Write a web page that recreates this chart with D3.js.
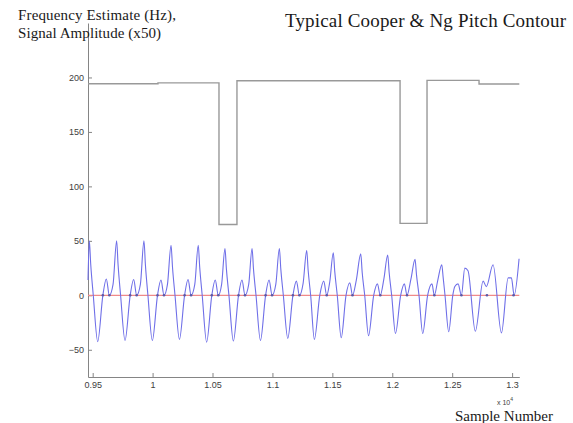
<!DOCTYPE html>
<html>
<head>
<meta charset="utf-8">
<script src="https://d3js.org/d3.v7.min.js"></script>
<style>
  body { margin: 0; background: #fff; }
  .tick text { font-family: "Liberation Sans", Arial, sans-serif; font-size: 9px; fill: #404040; }
  .serif { font-family: "Liberation Serif", "Times New Roman", serif; fill: #1a1a1a; }
</style>
</head>
<body>
<div id="chart"></div>
<script>
// pitch estimate (Hz), held until the next change
var pitchSamples = [9461, 10045, 10554, 10704, 12065, 12290, 12724, 13060];
var pitchHz = [194.2, 195, 65, 197, 66, 197.3, 194, 194];

// speech signal (x50)
var signalSamples = [9461,
  9472, 9484, 9505, 9542, 9585, 9614, 9639, 9670,
  9700, 9712, 9733, 9770, 9813, 9842, 9867, 9898,
  9928, 9940, 9961, 9998, 10041, 10070, 10095, 10124,
  10154, 10166, 10187, 10224, 10267, 10296, 10321, 10352,
  10381, 10393, 10414, 10451, 10494, 10523, 10548, 10576,
  10604, 10616, 10637, 10674, 10717, 10746, 10771, 10802,
  10830, 10842, 10863, 10900, 10943, 10972, 10997, 11028,
  11058, 11070, 11091, 11128, 11171, 11200, 11225, 11256,
  11286, 11298, 11319, 11350, 11395, 11428, 11453, 11478,
  11508, 11520, 11541, 11574, 11614, 11646, 11668, 11700,
  11737, 11749, 11770, 11802, 11845, 11876, 11900, 11930,
  11962, 11974, 11995, 12027, 12070, 12101, 12123, 12156,
  12190, 12202, 12223, 12254, 12295, 12331, 12351, 12380,
  12413, 12425, 12440, 12471, 12505, 12522, 12549, 12577,
  12605, 12632, 12693, 12758, 12785,
  12841, 12911, 12967, 12994, 13017, 13058];
var signalAmp = [14,
  50, 28, 0, -42.5, 0, 15, 0, 10,
  50, 28, 0, -41.5, 0, 14.5, 0, 10,
  50, 28, 0, -41.5, 0, 14, 0, 10,
  46, 26, 0, -40.5, 0, 14.5, 0, 10,
  46, 26, 0, -43, 0, 14, 0, 10,
  43, 24, 0, -42, 0, 14, 0, 10,
  43, 24, 0, -41.5, 0, 14, 0, 10,
  43, 24, 0, -39.5, 0, 13, 0, 11,
  41, 23, 0, -40.5, 0, 13, 0, 12,
  39, 22, 0, -39, 0, 11.5, 0, 14,
  38, 21, 0, -37, 0, 10.5, 0, 15,
  37, 21, 0, -35, 0, 10.5, 0, 15,
  33, 19, 0, -35, 0, 10.5, 0, 14,
  28, 16, 0, -33.5, 0, 8, 10.5, 0,
  25, 22.5, -33, 13, 8,
  28, -34.5, 16, 16, 0, 33.5];

// pitch epoch markers on the zero line
var epochSamples = [9585, 9639, 9813, 9867, 10041, 10095, 10267, 10321,
  10494, 10548, 10717, 10771, 10943, 10997, 11171, 11225,
  11453, 11668, 11900, 12123, 12351, 12577, 12790, 13012];

var xTickValues = [9500, 10000, 10500, 11000, 11500, 12000, 12500, 13000];
var xTickLabels = ["0.95", "1", "1.05", "1.1", "1.15", "1.2", "1.25", "1.3"];
var yTickValues = [-50, 0, 50, 100, 150, 200];

var svgWidth = 573, svgHeight = 423;

var svg = d3.select("#chart").append("svg")
    .attr("width", svgWidth)
    .attr("height", svgHeight);

var x = d3.scaleLinear().domain([9461, 13060]).range([88, 519.3]);
var y = d3.scaleLinear().domain([-75, 250]).range([377, 23]);

// axes, MATLAB style: ticks pointing inward, no box
var xAxis = svg.append("g")
    .attr("transform", "translate(0," + y(-75) + ")")
    .call(d3.axisBottom(x)
        .tickValues(xTickValues)
        .tickFormat(function (d, i) { return xTickLabels[i]; })
        .tickSizeInner(-4)
        .tickSizeOuter(0)
        .tickPadding(5));

var yAxis = svg.append("g")
    .attr("transform", "translate(" + x(9461) + ",0)")
    .call(d3.axisLeft(y)
        .tickValues(yTickValues)
        .tickSizeInner(-4)
        .tickSizeOuter(0)
        .tickPadding(4));

svg.selectAll(".domain, .tick line").attr("stroke", "#858585");

// zero line
svg.append("line")
    .attr("x1", x(9461)).attr("x2", x(13060))
    .attr("y1", y(0)).attr("y2", y(0))
    .attr("stroke", "#f08a8a")
    .attr("stroke-width", 1.2);

// speech signal
var signalLine = d3.line()
    .x(function (d, i) { return x(signalSamples[i]); })
    .y(function (d) { return y(d); })
    .curve(d3.curveMonotoneX);

svg.append("path")
    .attr("d", signalLine(signalAmp))
    .attr("fill", "none")
    .attr("stroke", "#6f6fe8")
    .attr("stroke-width", 1.1);

svg.selectAll(".epoch")
    .data(epochSamples)
    .enter()
    .append("circle")
    .attr("class", "epoch")
    .attr("cx", function (d) { return x(d); })
    .attr("cy", y(0))
    .attr("r", 1.3)
    .attr("fill", "#5a5aa8");

// pitch contour
var pitchLine = d3.line()
    .x(function (d, i) { return x(pitchSamples[i]); })
    .y(function (d) { return y(d); })
    .curve(d3.curveStepAfter);

svg.append("path")
    .attr("d", pitchLine(pitchHz))
    .attr("fill", "none")
    .attr("stroke", "#999999")
    .attr("stroke-width", 1.4);

// texts
svg.append("text").attr("class", "serif")
    .attr("x", 18).attr("y", 20)
    .style("font-size", "15px")
    .attr("textLength", 158)
    .attr("lengthAdjust", "spacing")
    .text("Frequency Estimate (Hz),");

svg.append("text").attr("class", "serif")
    .attr("x", 18).attr("y", 38)
    .style("font-size", "15px")
    .attr("textLength", 143)
    .attr("lengthAdjust", "spacing")
    .text("Signal Amplitude (x50)");

svg.append("text").attr("class", "serif")
    .attr("x", 285).attr("y", 27)
    .style("font-size", "19px")
    .attr("textLength", 281)
    .attr("lengthAdjust", "spacing")
    .text("Typical Cooper & Ng Pitch Contour");

var expo = svg.append("text")
    .attr("x", 497).attr("y", 405)
    .style("font-family", "Liberation Sans, Arial, sans-serif")
    .style("font-size", "7px")
    .attr("fill", "#404040");
expo.append("tspan").text("x 10");
expo.append("tspan").attr("dy", -4).style("font-size", "5px").text("4");

svg.append("text").attr("class", "serif")
    .attr("x", 455).attr("y", 420.5)
    .style("font-size", "15px")
    .attr("textLength", 98)
    .attr("lengthAdjust", "spacing")
    .text("Sample Number");
</script>
</body>
</html>
